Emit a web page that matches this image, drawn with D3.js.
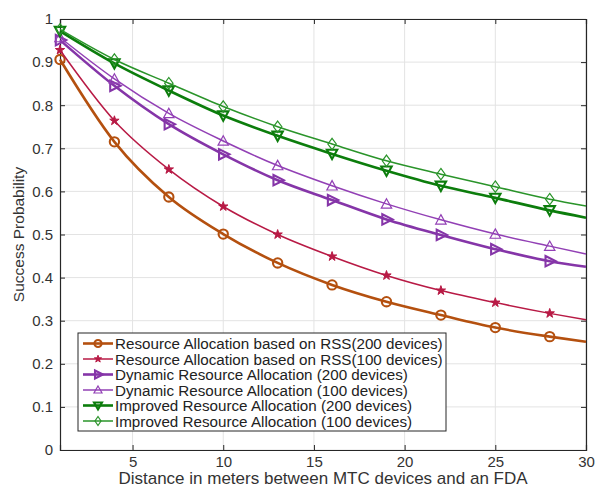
<!DOCTYPE html>
<html>
<head>
<meta charset="utf-8">
<script src="https://cdn.jsdelivr.net/npm/d3@7"></script>
<style>
  body { margin: 0; background: #fff; }
  text { font-family: "Liberation Sans", Arial, sans-serif; }
</style>
</head>
<body>
<svg id="chart"></svg>
<script>
// Distance (m) where values were read: markers every 3 m, plus the end at 30
var distances = [1, 4, 7, 10, 13, 16, 19, 22, 25, 28, 30];

// Success probability per scheme
var rss200 = [0.906, 0.715, 0.587, 0.501, 0.434, 0.383, 0.344, 0.313, 0.284, 0.263, 0.251];
var rss100 = [0.928, 0.764, 0.651, 0.565, 0.500, 0.449, 0.405, 0.370, 0.342, 0.317, 0.302];
var dyn200 = [0.951, 0.845, 0.756, 0.686, 0.626, 0.580, 0.535, 0.499, 0.466, 0.438, 0.425];
var dyn100 = [0.957, 0.861, 0.781, 0.717, 0.660, 0.613, 0.571, 0.534, 0.501, 0.473, 0.455];
var imp200 = [0.972, 0.897, 0.834, 0.776, 0.729, 0.687, 0.648, 0.613, 0.585, 0.556, 0.539];
var imp100 = [0.976, 0.906, 0.851, 0.797, 0.750, 0.710, 0.671, 0.640, 0.611, 0.582, 0.566];

var seriesNames = [
  "Resource Allocation based on RSS(200 devices)",
  "Resource Allocation based on RSS(100 devices)",
  "Dynamic Resource Allocation (200 devices)",
  "Dynamic Resource Allocation (100 devices)",
  "Improved Resource Allocation (200 devices)",
  "Improved Resource Allocation (100 devices)"
];
var xTicks = [5, 10, 15, 20, 25, 30];
var yTicks = [0, 0.1, 0.2, 0.3, 0.4, 0.5, 0.6, 0.7, 0.8, 0.9, 1];

// styles per series
var styles = [
  {color: "#b4500f", width: 2.6, marker: "circle"},
  {color: "#b81a45", width: 1.5, marker: "star"},
  {color: "#8535a8", width: 2.6, marker: "right"},
  {color: "#9240b5", width: 1.5, marker: "up"},
  {color: "#0c7d0c", width: 2.6, marker: "down"},
  {color: "#2a942a", width: 1.5, marker: "diamond"}
];
var allValues = [rss200, rss100, dyn200, dyn100, imp200, imp100];

var W = 596, H = 487;
var margin = {top: 19, right: 10, bottom: 37, left: 60};
var width = W - margin.left - margin.right,
    height = H - margin.top - margin.bottom;

var svg = d3.select("#chart").attr("width", W).attr("height", H);
var g = svg.append("g").attr("transform", "translate(" + margin.left + "," + margin.top + ")");

var x = d3.scaleLinear().domain([1, 30]).range([0, width]);
var y = d3.scaleLinear().domain([0, 1]).range([height, 0]);

// grid
g.append("g").selectAll("line").data(xTicks).enter().append("line")
  .attr("x1", function(d) { return x(d); }).attr("x2", function(d) { return x(d); })
  .attr("y1", 0).attr("y2", height)
  .attr("stroke", "#e3e3e3").attr("stroke-width", 1);
g.append("g").selectAll("line").data(yTicks).enter().append("line")
  .attr("y1", function(d) { return y(d); }).attr("y2", function(d) { return y(d); })
  .attr("x1", 0).attr("x2", width)
  .attr("stroke", "#e3e3e3").attr("stroke-width", 1);

// axes
g.append("g").attr("transform", "translate(0," + height + ")")
  .call(d3.axisBottom(x).tickValues(xTicks).tickSize(-5).tickPadding(6).tickFormat(d3.format("d")));
g.append("g")
  .call(d3.axisLeft(y).tickValues(yTicks).tickSize(-5).tickPadding(7).tickFormat(function(d) { return d === 0 || d === 1 ? d : d3.format(".1f")(d); }));
g.append("g").attr("transform", "translate(" + width + ",0)")
  .call(d3.axisRight(y).tickValues(yTicks).tickSize(-5).tickFormat(""));
g.append("g")
  .call(d3.axisTop(x).tickValues(xTicks).tickSize(-5).tickFormat(""));
g.selectAll(".domain").attr("stroke", "#262626").attr("stroke-width", 1.2);
g.selectAll(".tick line").attr("stroke", "#262626");
g.selectAll(".tick text").attr("fill", "#333").style("font-size", "15px");

// axis titles
svg.append("text")
  .attr("x", margin.left + width / 2).attr("y", H - 3)
  .attr("text-anchor", "middle").attr("fill", "#333").style("font-size", "17px")
  .text("Distance in meters between MTC devices and an FDA");
svg.append("text")
  .attr("transform", "translate(24," + (margin.top + height / 2) + ") rotate(-90)")
  .attr("text-anchor", "middle").attr("fill", "#333").style("font-size", "15.5px")
  .text("Success Probability");

// marker shapes
function markerPath(type, r) {
  if (type == "circle") return d3.symbol(d3.symbolCircle, Math.PI * r * r * 0.8)();
  if (type == "star") return d3.symbol(d3.symbolStar, r * r)();
  if (type == "right") return "M" + (-r+1) + "," + (-r) + "L" + (r+1) + ",0L" + (-r+1) + "," + r + "Z";
  if (type == "up") return "M0," + (-r) + "L" + r + "," + (r-1) + "L" + (-r) + "," + (r-1) + "Z";
  if (type == "down") return "M0," + r + "L" + r + "," + (-r+1) + "L" + (-r) + "," + (-r+1) + "Z";
  if (type == "diamond") return "M0," + (-r-0.5) + "L" + (r-1) + ",0L0," + (r+0.5) + "L" + (-r+1) + ",0Z";
}

var line = d3.line()
  .x(function(d) { return x(d[0]); })
  .y(function(d) { return y(d[1]); })
  .curve(d3.curveMonotoneX);

for (var i = 0; i < allValues.length; i++) {
  var pts = distances.map(function(dd, k) { return [dd, allValues[i][k]]; });
  var st = styles[i];
  g.append("path").datum(pts)
    .attr("d", line)
    .attr("fill", "none")
    .attr("stroke", st.color)
    .attr("stroke-width", st.width);
  // markers only at every 3 m (not the endpoint)
  var mk = pts.filter(function(p) { return (p[0] - 1) % 3 === 0; });
  g.selectAll(".m" + i).data(mk).enter().append("path")
    .attr("transform", function(d) { return "translate(" + x(d[0]) + "," + y(d[1]) + ")"; })
    .attr("d", markerPath(st.marker, 5.2))
    .attr("fill", st.marker == "star" ? st.color : "none")
    .attr("stroke", st.color)
    .attr("stroke-width", st.marker == "star" ? 1 : st.width * 0.8);
}

// legend
var legend = svg.append("g").attr("transform", "translate(78,333)");
legend.append("rect")
  .attr("width", 368).attr("height", 98)
  .attr("fill", "#fff").attr("stroke", "#262626").attr("stroke-width", 1);
var rowH = 15.5;
seriesNames.forEach(function(name, i) {
  var st = styles[i];
  var cy = 10.5 + i * rowH;
  legend.append("line")
    .attr("x1", 5).attr("x2", 35).attr("y1", cy).attr("y2", cy)
    .attr("stroke", st.color).attr("stroke-width", st.width);
  legend.append("path")
    .attr("transform", "translate(20," + cy + ")")
    .attr("d", markerPath(st.marker, 4))
    .attr("fill", st.marker == "star" ? st.color : "none")
    .attr("stroke", st.color)
    .attr("stroke-width", st.marker == "star" ? 1 : st.width * 0.8);
  legend.append("text")
    .attr("x", 37).attr("y", cy + 5.5)
    .attr("fill", "#222").style("font-size", "15.2px")
    .text(name);
});
</script>
</body>
</html>
